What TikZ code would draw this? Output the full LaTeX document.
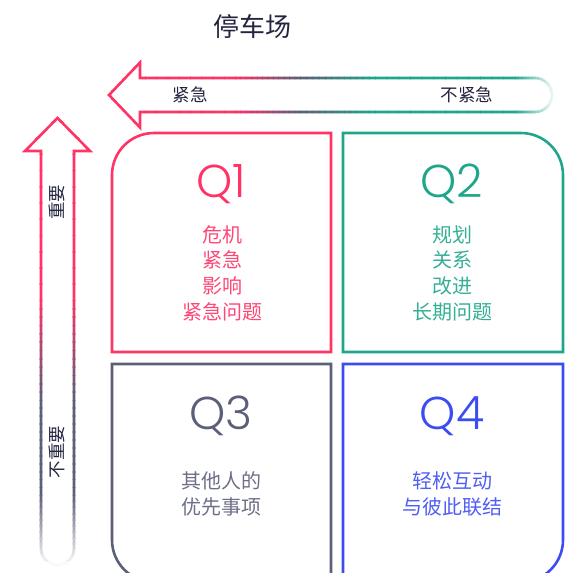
\documentclass[tikz,border=0pt]{standalone}
\usepackage{fontspec}
\setmainfont{Noto Sans CJK SC}
\newfontfamily\qfont{Poppins Light}
\usetikzlibrary{positioning}

\definecolor{qred}{HTML}{FF3366}
\definecolor{qteal}{HTML}{1FA68A}
\definecolor{qgrey}{HTML}{5C5F7A}
\definecolor{qblue}{HTML}{3D4CF2}
\definecolor{qink}{HTML}{23253F}

\tikzset{
  quad/.style={line width=2.6pt},
  axisline/.style={line width=2.6pt, line join=miter},
  qlabel/.style={font=\qfont\fontsize{46}{46}\selectfont},
  qtext/.style={font=\fontsize{20}{25.7}\selectfont, align=center},
  axislabel/.style={font=\fontsize{17.5}{17.5}\selectfont, text=qink},
  hpath/.style={insert path={(109,95) -- (140,62.5) -- (140,78) -- (535,78)
      arc[start angle=-90,end angle=90,radius=17] -- (140,112) -- (140,127.5) -- cycle}},
  vpath/.style={insert path={(57.5,118) -- (90,151) -- (74,151) -- (74,548.5)
      arc[start angle=0,end angle=180,radius=16.5] -- (41,151) -- (25,151) -- cycle}}
}

\begin{document}
\begin{tikzpicture}[x=1pt,y=-1pt]

  \useasboundingbox (0,0) rectangle (579,573);
  \clip (0,0) rectangle (579,573);

  % title
  \node[font=\fontsize{26}{26}\selectfont, text=qink] (title) at (252,27) {停车场};

  % urgency arrow, gradient stroke drawn strip by strip
  \foreach \xa/\xb/\ca/\cb in {100/235/qred/qred,235/300/qred/qgrey,300/375/qgrey/qteal,375/515/qteal/qteal,515/556/qteal/white}{
    \foreach \k in {0,...,11}{
      \pgfmathsetmacro\xl{\xa+(\xb-\xa)*\k/12}
      \pgfmathsetmacro\xr{\xa+(\xb-\xa)*(\k+1)/12+0.8}
      \pgfmathtruncatemacro\pc{100-(\k+0.5)*100/12}
      \begin{scope}
        \clip (\xl,50) rectangle (\xr,140);
        \draw[axisline, draw=\ca!\pc!\cb, hpath];
      \end{scope}
    }
  }
  \node[axislabel] (urgent) at (190,95) {紧急};
  \node[axislabel] (noturgent) at (467,95) {不紧急};

  % importance arrow
  \foreach \ya/\yb/\ca/\cb in {105/300/qred/qred,300/400/qred/qgrey,400/495/qgrey/qgrey,495/568/qgrey/white}{
    \foreach \k in {0,...,11}{
      \pgfmathsetmacro\yl{\ya+(\yb-\ya)*\k/12}
      \pgfmathsetmacro\yr{\ya+(\yb-\ya)*(\k+1)/12+0.8}
      \pgfmathtruncatemacro\pc{100-(\k+0.5)*100/12}
      \begin{scope}
        \clip (15,\yl) rectangle (100,\yr);
        \draw[axisline, draw=\ca!\pc!\cb, vpath];
      \end{scope}
    }
  }
  \node[axislabel, rotate=90] (important) at (57,202) {重要};
  \node[axislabel, rotate=90] (notimportant) at (57,452) {不重要};

  % quadrants
  \draw[quad, qred] (112,352) -- (112,175) arc[start angle=180,end angle=270,radius=42]
    -- (331,133) -- (331,352) -- cycle;
  \draw[quad, qteal] (343,352) -- (343,133) -- (521,133) arc[start angle=-90,end angle=0,radius=42]
    -- (563,352) -- cycle;
  \draw[quad, qgrey] (112,364) -- (331,364) -- (331,582) -- (154,582)
    arc[start angle=90,end angle=180,radius=42] -- cycle;
  \draw[quad, qblue] (563,364) -- (343,364) -- (343,582) -- (521,582)
    arc[start angle=90,end angle=0,radius=42] -- cycle;

  \node[qlabel, text=qred] (q1) at (221,184) {Q1};
  \node[qtext, text=qred!90] (t1) at (222,273) {危机\\紧急\\影响\\紧急问题};

  \node[qlabel, text=qteal] (q2) at (452,184) {Q2};
  \node[qtext, text=qteal!90] (t2) at (452,273) {规划\\关系\\改进\\长期问题};

  \node[qlabel, text=qgrey] (q3) at (221,416) {Q3};
  \node[qtext, text=qgrey!90] (t3) at (221,494) {其他人的\\优先事项};

  \node[qlabel, text=qblue] (q4) at (452,416) {Q4};
  \node[qtext, text=qblue!90] (t4) at (452,494) {轻松互动\\与彼此联结};

\end{tikzpicture}
\end{document}
